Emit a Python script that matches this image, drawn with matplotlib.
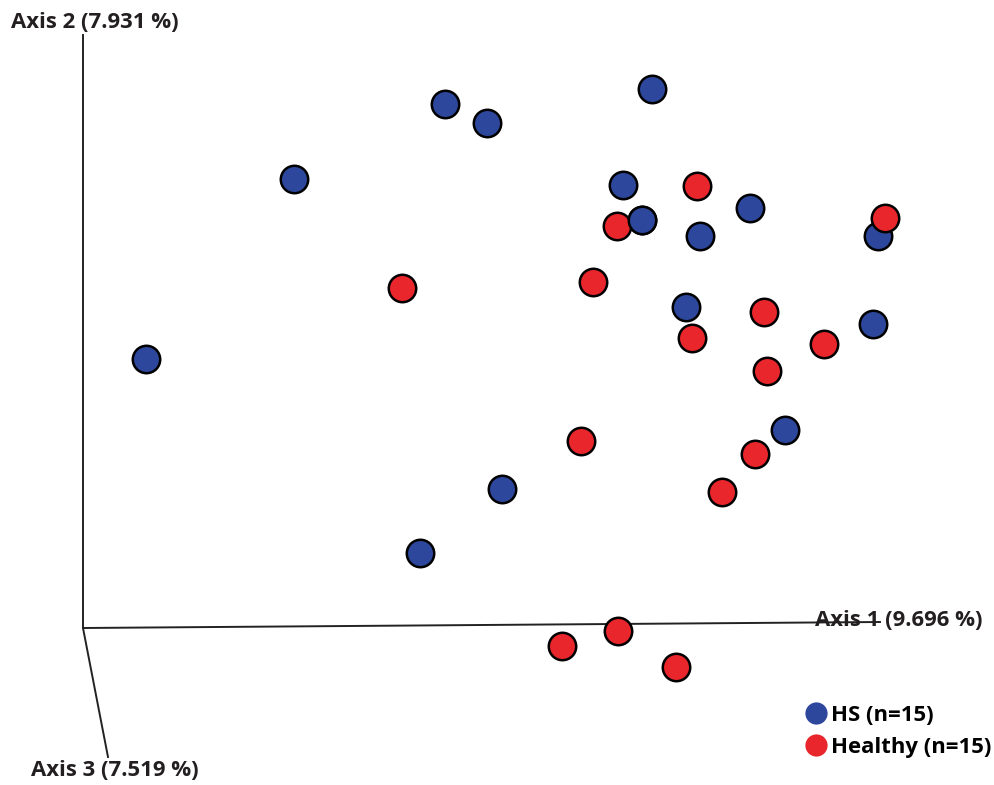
import matplotlib
matplotlib.use('Agg')
import matplotlib.pyplot as plt
from matplotlib.lines import Line2D

plt.rcParams['font.family'] = ['Open Sans', 'DejaVu Sans']

# projected coordinates of the samples (PCoA view)
hs_x = [652, 445, 487, 294, 623, 750, 642, 700, 878, 686, 873, 146, 785, 502, 420]
hs_y = [89, 104, 123, 179, 185, 208, 220, 236, 236, 307, 324, 359, 430, 489, 553]
healthy_x = [697, 617, 885, 402, 593, 764, 692, 824, 767, 581, 755, 722, 618, 562, 676]
healthy_y = [186, 226, 218, 288, 282, 312, 338, 344, 371, 441, 454, 492, 631, 646, 667]

axis_labels = ['Axis 1 (9.696 %)', 'Axis 2 (7.931 %)', 'Axis 3 (7.519 %)']
legend_labels = ['HS (n=15)', 'Healthy (n=15)']

BLUE = '#2d479c'
RED = '#e8262b'

fig = plt.figure(figsize=(9.95, 7.85), dpi=100)
ax = fig.add_axes([0, 0, 1, 1])
ax.set_xlim(0, 995)
ax.set_ylim(785, 0)
ax.axis('off')

# the three axes of the 3d view
origin = (83, 628)
ax.plot([origin[0], 83], [origin[1], 35], color='#222222', lw=1.4)
ax.plot([origin[0], 880], [origin[1], 622], color='#222222', lw=1.4)
ax.plot([origin[0], 108], [origin[1], 757], color='#222222', lw=1.4)

tkw = dict(fontsize=15.9, fontweight='bold', color='#231f20', va='center')
ax.text(11, 22, axis_labels[1], **tkw)
ax.text(815, 620, axis_labels[0], **tkw)
ax.text(31, 771, axis_labels[2], **tkw)

ms = 390
ax.scatter(hs_x, hs_y, s=ms, c=BLUE, edgecolors='black', linewidths=1.8, zorder=3)
ax.scatter(healthy_x, healthy_y, s=ms, c=RED, edgecolors='black', linewidths=1.8, zorder=4)
# this blue sample sits in front of its red neighbour
ax.scatter(hs_x[6], hs_y[6], s=ms, c=BLUE, edgecolors='black', linewidths=1.8, zorder=5)

handles = [Line2D([], [], marker='o', ls='', ms=16, mfc=BLUE, mec='none'),
           Line2D([], [], marker='o', ls='', ms=16, mfc=RED, mec='none')]
fig.legend(handles, legend_labels, loc='upper left', bbox_to_anchor=(803 / 995, 1 - 705 / 785),
           frameon=False, prop=dict(size=15.9, weight='bold'), handletextpad=0.05,
           labelspacing=0.5, borderpad=0, handlelength=1.2, borderaxespad=0)

fig.savefig('out.png', dpi=100)
